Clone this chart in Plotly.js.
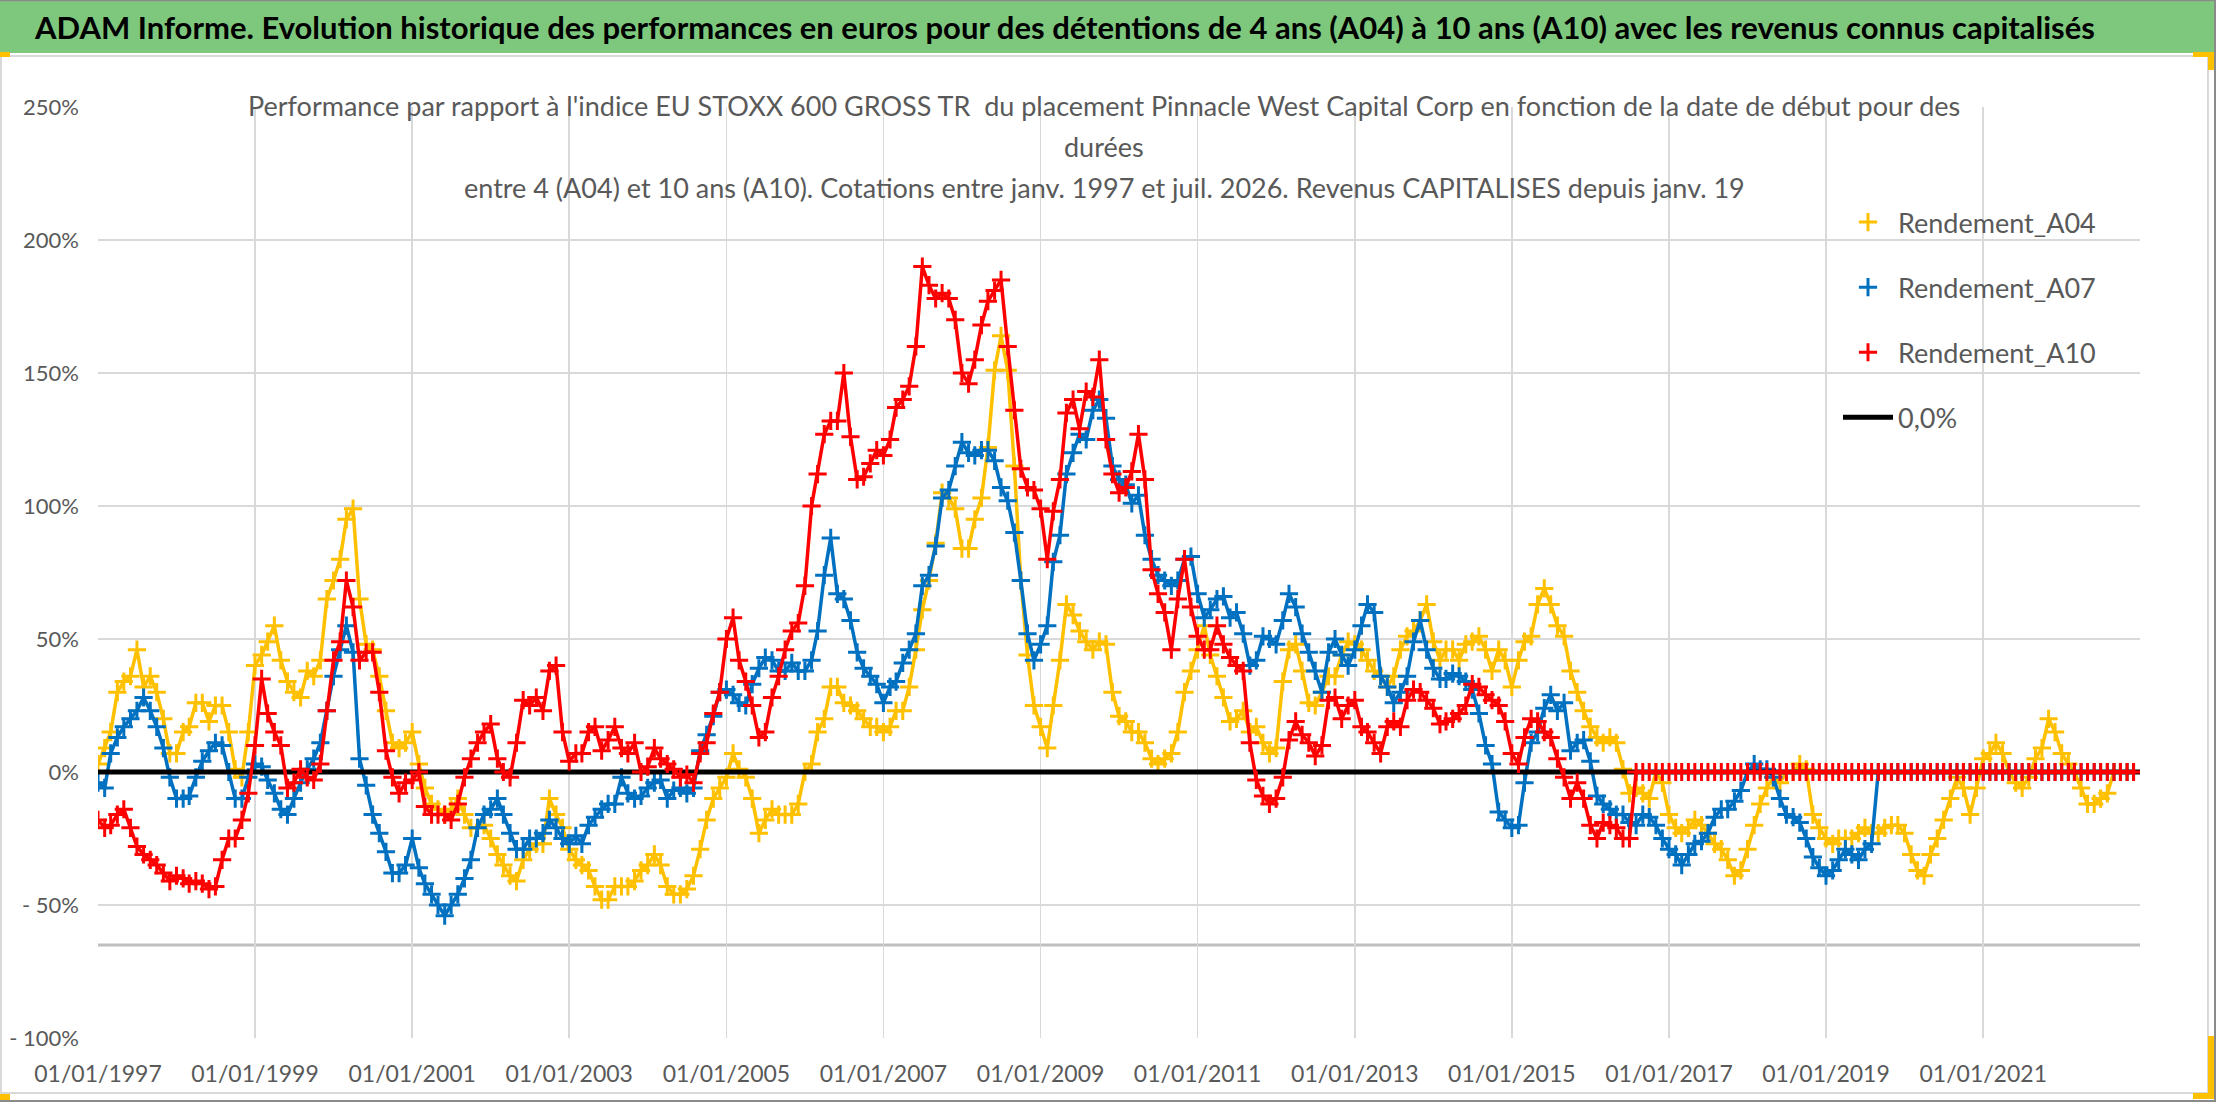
<!DOCTYPE html>
<html>
<head>
<meta charset="utf-8">
<script src="https://cdn.plot.ly/plotly-3.0.1.min.js"></script>
<style>
  html, body { margin: 0; padding: 0; background: #fff; }
  #chart { width: 2216px; height: 1102px; }
</style>
</head>
<body>
<div id="chart"></div>
<script>
// Monthly readings, Jan 1997 .. Dec 2022 (values in %)
const START_YEAR = 1997;
const N_MONTHS = 312;

const A04 = [
  3, 9, 15, 30, 34, 36, 46, 32, 36, 30,
  20, 7, 7, 15, 17, 26, 26, 19, 25, 25,
  15, 1, -2, 15, 40, 44, 49, 55, 42, 34,
  30, 28, 38, 36, 42, 65, 72, 80, 95, 99,
  65, 48, 46, 36, 23, 11, 9, 11, 15, 3,
  -6, -12, -14, -16, -14, -10, -16, -21, -21, -20,
  -25, -31, -35, -39, -41, -33, -29, -27, -27, -10,
  -16, -21, -29, -33, -35, -37, -43, -48,
  -48, -43, -43, -43, -41, -37, -35, -31, -35, -43,
  -46, -46, -44, -39, -29, -18, -10, -6, -2, 7,
  1, -2, -10, -23, -18, -14, -16, -16, -16, -12,
  0, 3, 15, 20, 32, 32, 26, 25, 23, 20,
  17, 17, 15, 17, 23, 23, 32, 46, 61, 72,
  86, 105, 103, 99, 84, 84, 95, 103, 122, 151,
  164, 151, 115, 72, 44, 25, 17, 9, 25, 42,
  63, 59, 53, 49, 46, 49, 48, 30,
  21, 19, 15, 15, 11, 5, 3, 5, 7, 15,
  30, 38, 46, 55, 44, 36, 28, 19, 20, 23,
  15, 17, 11, 7, 9, 34, 46, 48, 38, 26,
  25, 30, 36, 36, 44, 49, 48, 46, 42, 38,
  36, 32, 36, 46, 51, 53, 57, 63, 49, 42,
  46, 46, 42, 48, 49, 51, 46, 38, 46, 42,
  32, 42, 49, 51, 63, 69, 63, 55, 51, 38,
  30, 23, 17, 13, 11, 13, 11, 1,
  -8, -6, -8, -10, 0, -4, -16, -21, -23, -21,
  -18, -20, -23, -27, -29, -33, -39, -37, -29, -20,
  -12, -6, -2, -4, 0, 0, 3, 1, -16, -21,
  -25, -27, -25, -25, -25, -23, -21, -23, -23, -21,
  -20, -20, -23, -31, -37, -39, -31, -25, -18, -10,
  -2, -6, -16, -6, 5, 7, 11, 7, 0, -4,
  -6, -2, 5, 9, 20, 15, 7, 3, 0, -6,
  -12, -12, -10, -8, 0, 0, 0, 0
];

const A07 = [
  -4, -6, 7, 13, 17, 20, 23, 28, 23, 17,
  9, -2, -10, -10, -9, -2, 4, 8, 11, 10,
  0, -10, -10, -2, 3, 2, -3, -8, -14, -16,
  -10, -4, 1, 5, 11, 23, 36, 46, 55, 45,
  5, -5, -16, -23, -30, -38, -38, -35, -25, -36,
  -42, -46, -50, -54, -50, -46, -40, -33, -21, -16,
  -14, -10, -16, -23, -29, -29, -25, -25, -23, -18,
  -21, -25, -27, -24, -27, -20, -17, -14,
  -12, -12, -2, -8, -10, -9, -6, -4, -3, -10,
  -7, -6, -8, -6, 8, 14, 21, 30, 31, 29,
  26, 25, 33, 39, 43, 42, 38, 38, 41, 38,
  38, 42, 53, 74, 88, 67, 65, 57, 45, 39,
  36, 33, 26, 32, 34, 41, 46, 52, 70, 74,
  85, 103, 106, 115, 124, 120, 119, 121, 121, 117,
  107, 102, 90, 72, 52, 42, 48, 55, 79, 89,
  112, 120, 127, 125, 136, 140, 133, 115,
  110, 108, 101, 104, 89, 80, 74, 72, 70, 72,
  80, 81, 67, 58, 61, 65, 66, 58, 60, 52,
  40, 42, 51, 50, 48, 57, 67, 62, 52, 45,
  38, 30, 45, 50, 44, 40, 46, 55, 63, 60,
  36, 32, 26, 30, 36, 49, 57, 46, 39, 35,
  35, 37, 36, 34, 31, 22, 10, 3, -15, -18,
  -21, -20, -4, 11, 15, 24, 29, 23, 26, 8,
  11, 12, 4, -9, -12, -14, -16, -16,
  -19, -20, -16, -17, -20, -25, -29, -31, -35, -31,
  -27, -26, -23, -17, -14, -14, -11, -7, 0, 3,
  1, 1, -2, -10, -16, -17, -19, -25, -32, -36,
  -39, -37, -33, -29, -31, -33, -29, -27,
  0, 0, 0, 0, 0, 0, 0, 0, 0, 0,
  0, 0, 0, 0, 0, 0, 0, 0, 0, 0,
  0, 0, 0, 0, 0, 0, 0, 0, 0, 0,
  0, 0, 0, 0, 0, 0, 0, 0, 0, 0
];

const A10 = [
  -18, -21, -20, -16, -14, -21, -28, -31, -33, -35,
  -38, -41, -39, -40, -42, -41, -42, -44, -43, -33,
  -25, -25, -18, -8, 10, 35, 22, 15, 10, -6,
  -4, 1, -2, -3, 3, 23, 42, 49, 72, 62,
  42, 45, 45, 30, 8, -2, -8, -4, -3, 0,
  -13, -16, -16, -16, -18, -12, -2, 5, 11, 15,
  18, 5, 0, -2, 11, 27, 25, 28, 23, 38,
  40, 15, 4, 7, 7, 15, 17, 8,
  12, 17, 9, 7, 11, 0, 2, 9, 5, 3,
  1, -2, -1, -4, 7, 11, 22, 30, 50, 58,
  42, 34, 25, 13, 15, 28, 36, 46, 53, 56,
  70, 100, 112, 127, 132, 132, 150, 126, 110, 111,
  116, 121, 119, 125, 137, 140, 145, 160, 190, 183,
  178, 180, 178, 170, 150, 146, 155, 168, 177, 181,
  185, 160, 136, 114, 107, 106, 99, 80, 98, 110,
  135, 140, 129, 143, 141, 155, 125, 112,
  105, 107, 113, 127, 110, 76, 67, 60, 46, 65,
  80, 62, 51, 46, 46, 55, 48, 43, 40, 38,
  11, -3, -9, -12, -10, -2, 12, 19, 14, 11,
  6, 10, 27, 28, 20, 25, 27, 17, 15, 11,
  7, 17, 19, 17, 27, 31, 30, 27, 24, 18,
  19, 20, 22, 25, 33, 32, 29, 27, 25, 19,
  7, 3, 13, 20, 19, 15, 13, 5, -2, -10,
  -4, -10, -20, -25, -19, -20, -21, -25,
  -25,
  0, 0, 0, 0, 0, 0, 0, 0, 0, 0,
  0, 0, 0, 0, 0, 0, 0, 0, 0, 0,
  0, 0, 0, 0, 0, 0, 0, 0, 0, 0,
  0, 0, 0, 0, 0, 0, 0, 0, 0, 0,
  0, 0, 0, 0, 0, 0, 0, 0, 0, 0,
  0, 0, 0, 0, 0, 0, 0, 0, 0, 0,
  0, 0, 0, 0, 0, 0, 0, 0, 0, 0,
  0, 0, 0, 0, 0, 0, 0
];

const ZERO_DATES = ['1997-01-01', '2022-12-31'];
const ZERO_VALUES = [0, 0];
const AXIS_CROSS = -65;

const Y_TICKS = [-100, -50, 0, 50, 100, 150, 200, 250];
const Y_LABELS = ['- 100%', '- 50%', '0%', '50%', '100%', '150%', '200%', '250%'];

const SERIES_NAMES = ['Rendement_A04', 'Rendement_A07', 'Rendement_A10'];
const COLORS = ['#FFC000', '#0070C0', '#FF0000'];

const TITLE = 'ADAM Informe. Evolution historique des performances en euros pour des détentions de 4 ans (A04) à 10 ans (A10) avec les revenus connus capitalisés';
const SUBTITLE = [
  "Performance par rapport à l'indice EU STOXX 600 GROSS TR  du placement Pinnacle West Capital Corp en fonction de la date de début pour des",
  'durées',
  'entre 4 (A04) et 10 ans (A10). Cotations entre janv. 1997 et juil. 2026. Revenus CAPITALISES depuis janv. 19',
];

// month grid (1st of each month)
const dates = [];
for (let i = 0; i < N_MONTHS; i++) {
  const y = START_YEAR + Math.floor(i / 12);
  const m = (i % 12) + 1;
  dates.push(`${y}-${String(m).padStart(2, '0')}-01`);
}

// page geometry (pixels) -> paper coords
const W = 2216, H = 1102;
const M = { l: 98, r: 76, t: 107, b: 64 };
const PW = W - M.l - M.r, PH = H - M.t - M.b;
const px = x => (x - M.l) / PW;
const py = y => (H - M.b - y) / PH;

const FONT = 'Lato, "Open Sans", sans-serif';
const GREY_TEXT = '#595959';
const GRID = '#d9d9d9';

function seriesTraces(values, idx) {
  const group = 'g' + idx;
  return [
    {
      x: dates, y: values, type: 'scatter', mode: 'lines',
      line: { color: COLORS[idx], width: 3.5 },
      legendgroup: group, showlegend: false, hoverinfo: 'skip',
    },
    {
      x: dates, y: values, type: 'scatter', mode: 'markers',
      name: SERIES_NAMES[idx],
      legendgroup: group, legendrank: idx + 1,
      marker: {
        symbol: 'cross-thin-open', size: 13, color: COLORS[idx],
        line: { color: COLORS[idx], width: 3 },
      },
    },
  ];
}

const traces = [
  ...seriesTraces(A04, 0),
  ...seriesTraces(A07, 1),
  {
    x: ZERO_DATES, y: ZERO_VALUES, type: 'scatter', mode: 'lines',
    name: '0,0%', legendgroup: 'g3', legendrank: 4,
    line: { color: '#000000', width: 5 },
  },
  ...seriesTraces(A10, 2),
];

const rect = (x0, y0, x1, y1, fill, layer) => ({
  type: 'rect', xref: 'paper', yref: 'paper',
  x0: px(x0), x1: px(x1), y0: py(y1), y1: py(y0),
  fillcolor: fill, line: { width: 0 }, layer: layer || 'above',
});
const hline = (x0, x1, y, color, width) => ({
  type: 'line', xref: 'paper', yref: 'paper',
  x0: px(x0), x1: px(x1), y0: py(y), y1: py(y),
  line: { color, width },
});
const vline = (x, y0, y1, color, width) => ({
  type: 'line', xref: 'paper', yref: 'paper',
  x0: px(x), x1: px(x), y0: py(y0), y1: py(y1),
  line: { color, width },
});

const shapes = [
  // white boxes behind title and legend (hide the grid)
  rect(240, 88, 1962, 210, '#ffffff', 'between'),
  rect(1807, 198, 2150, 450, '#ffffff', 'between'),
  // horizontal axis line
  {
    type: 'line', xref: 'paper', yref: 'y', x0: 0, x1: 1,
    y0: AXIS_CROSS, y1: AXIS_CROSS, layer: 'between',
    line: { color: '#bfbfbf', width: 3 },
  },
  // header band
  rect(0, 0, 2216, 53, '#7ec87e'),
  hline(0, 2216, 0.5, '#8a8a8a', 1.5),
  hline(0, 2208, 56, GRID, 2),
  // chart frame
  vline(2208, 56, 1093, GRID, 2),
  hline(0, 2208, 1093, GRID, 2),
  vline(2215, 0, 1102, '#8a8a8a', 2),
  hline(0, 2216, 1101, '#8a8a8a', 2),
  vline(1, 56, 1093, GRID, 2),
  // selection handles
  rect(0, 52, 10, 57, '#FFC000'),
  rect(2193, 52, 2214, 57, '#FFC000'),
  rect(2208, 52, 2214, 70, '#FFC000'),
  rect(2208, 1036, 2214, 1099, '#FFC000'),
  rect(2193, 1093, 2214, 1099, '#FFC000'),
  rect(0, 1094, 10, 1100, '#FFC000'),
];

const annotations = [
  {
    text: TITLE, xref: 'paper', yref: 'paper',
    x: px(32), y: py(27), xanchor: 'left', yanchor: 'middle', showarrow: false,
    font: { family: FONT, size: 31, color: '#000000', weight: 700 },
  },
  ...SUBTITLE.map((t, i) => ({
    text: t, xref: 'paper', yref: 'paper',
    x: px(1104), y: py([106, 147, 187][i]), xanchor: 'center', yanchor: 'middle',
    showarrow: false,
    font: { family: FONT, size: 27, color: GREY_TEXT },
  })),
];

const layout = {
  width: W, height: H,
  margin: M,
  paper_bgcolor: '#ffffff', plot_bgcolor: '#ffffff',
  font: { family: FONT, color: GREY_TEXT },
  showlegend: true,
  legend: {
    x: px(1838), y: py(198), xanchor: 'left', yanchor: 'top',
    bgcolor: 'rgba(0,0,0,0)', borderwidth: 0,
    font: { family: FONT, size: 27, color: GREY_TEXT },
    tracegroupgap: 27, itemwidth: 50,
  },
  xaxis: {
    type: 'date',
    range: ['1997-01-01', '2022-12-31'],
    tick0: '1997-01-01', dtick: 'M24',
    tickformat: '%d/%m/%Y',
    showgrid: true, gridcolor: GRID, gridwidth: 1.5,
    zeroline: false, showline: false, ticks: '',
    ticklabelstandoff: 20,
    tickfont: { family: FONT, size: 23, color: GREY_TEXT },
  },
  yaxis: {
    range: [-100, 250],
    tickvals: Y_TICKS, ticktext: Y_LABELS,
    showgrid: true, gridcolor: GRID, gridwidth: 1.5,
    zeroline: false, showline: false, ticks: '',
    ticklabelstandoff: 18,
    tickfont: { family: FONT, size: 22, color: GREY_TEXT },
  },
  shapes,
  annotations,
  hovermode: false,
};

Plotly.newPlot('chart', traces, layout, { displayModeBar: false, staticPlot: true });
</script>
</body>
</html>
